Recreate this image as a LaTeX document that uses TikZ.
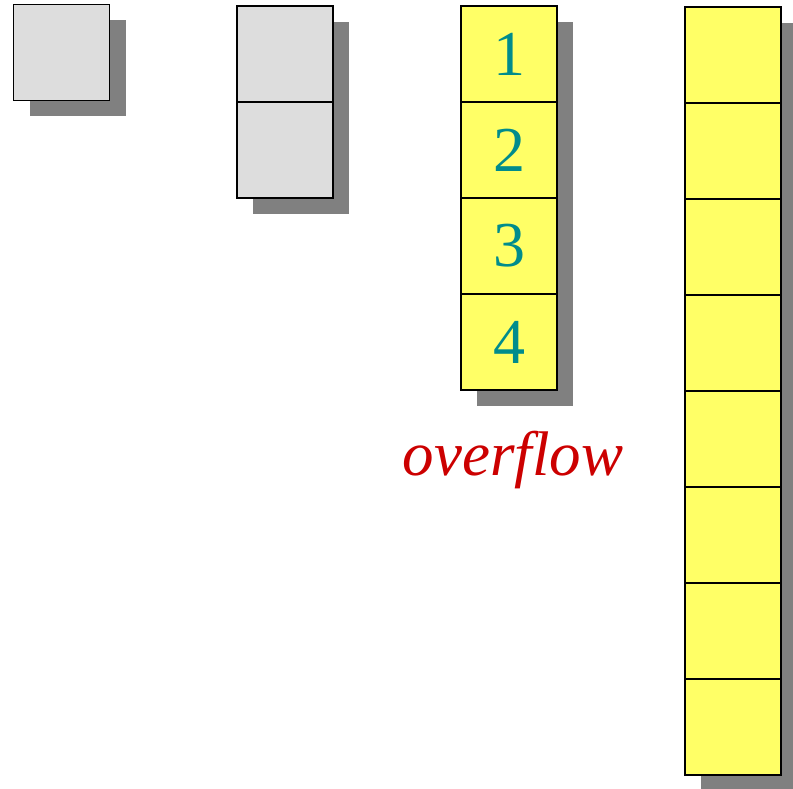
\documentclass[tikz,border=0pt]{standalone}
\usepackage{fontspec}
\setmainfont{Liberation Serif}
\usetikzlibrary{shadows}
\definecolor{cellyellow}{HTML}{FFFF66}
\definecolor{cellgray}{HTML}{DDDDDD}
\definecolor{numteal}{HTML}{008C8C}
\definecolor{ovred}{HTML}{CC0000}

\begin{document}
\begin{tikzpicture}[
  x=1pt, y=-1pt,
  cell/.style={draw, line width=1.6pt, rectangle, minimum size=96pt, inner sep=0pt,
    drop shadow={shadow xshift=16pt, shadow yshift=-16pt, fill=black!50, opacity=1}},
  graycell/.style={cell, fill=cellgray},
  yellowcell/.style={cell, fill=cellyellow, text=numteal,
    font=\fontsize{64}{64}\selectfont},
  desc/.style={ovred, font=\fontsize{63}{63}\selectfont\itshape, anchor=base},
]
\useasboundingbox (0,0) rectangle (793,789);

\node (one0) [graycell] at (61.5, 52.5) {};

\foreach \i in {0,1} {
  \node (two\i) [graycell] at (285, 54+96*\i) {};
}
\foreach [evaluate={\n=int(\i+1)}] \i in {0,...,3} {
  \node (four\i) [yellowcell] at (509, 54+96*\i) {\n};
}
\foreach \i in {0,...,7} {
  \node (eight\i) [yellowcell] at (733, 55+96*\i) {};
}

\node (ovf) [desc] at (513, 475) {overflow};
\end{tikzpicture}
\end{document}
